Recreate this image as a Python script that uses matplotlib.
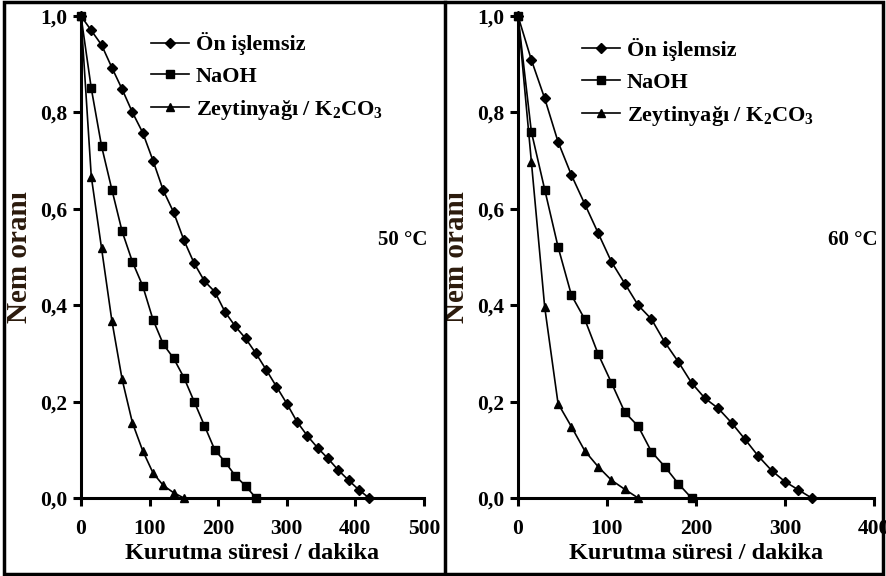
import matplotlib
matplotlib.use("Agg")
import matplotlib.pyplot as plt
from matplotlib.patches import Rectangle
from matplotlib.lines import Line2D

plt.rcParams['font.family'] = ['Liberation Serif', 'DejaVu Serif']
plt.rcParams['font.weight'] = 'bold'
plt.rcParams['mathtext.fontset'] = 'custom'
plt.rcParams['mathtext.rm'] = 'Liberation Serif:bold'
plt.rcParams['mathtext.it'] = 'Liberation Serif:bold'
plt.rcParams['mathtext.bf'] = 'Liberation Serif:bold'

# --- data: 50 C ---
t50_raw = [0, 15, 30, 45, 60, 75, 90, 105, 120, 135, 150, 165, 180, 195, 210,
           225, 240, 255, 270, 285, 300, 315, 330, 345, 360, 375, 390, 405, 420]
mr50_raw = [1.0, 0.97, 0.94, 0.893, 0.848, 0.80, 0.758, 0.70, 0.638, 0.593, 0.535,
            0.487, 0.45, 0.428, 0.386, 0.356, 0.331, 0.30, 0.266, 0.231, 0.196,
            0.158, 0.129, 0.104, 0.082, 0.058, 0.037, 0.017, 0.0]
t50_naoh = [0, 15, 30, 45, 60, 75, 90, 105, 120, 135, 150, 165, 180, 195, 210,
            225, 240, 255]
mr50_naoh = [1.0, 0.85, 0.73, 0.64, 0.553, 0.49, 0.44, 0.37, 0.319, 0.29, 0.25,
             0.20, 0.15, 0.10, 0.075, 0.046, 0.025, 0.0]
t50_oil = [0, 15, 30, 45, 60, 75, 90, 105, 120, 135, 150]
mr50_oil = [1.0, 0.667, 0.518, 0.368, 0.246, 0.156, 0.098, 0.052, 0.026, 0.011, 0.0]

# --- data: 60 C ---
t60_raw = [0, 15, 30, 45, 60, 75, 90, 105, 120, 135, 150, 165, 180, 195, 210,
           225, 240, 255, 270, 285, 300, 315, 330]
mr60_raw = [1.0, 0.909, 0.829, 0.739, 0.67, 0.61, 0.55, 0.49, 0.445, 0.40, 0.371,
            0.323, 0.283, 0.239, 0.207, 0.186, 0.156, 0.122, 0.087, 0.057, 0.034,
            0.017, 0.0]
t60_naoh = [0, 15, 30, 45, 60, 75, 90, 105, 120, 135, 150, 165, 180, 195]
mr60_naoh = [1.0, 0.76, 0.64, 0.521, 0.421, 0.371, 0.299, 0.239, 0.178, 0.149,
             0.096, 0.065, 0.03, 0.0]
t60_oil = [0, 15, 30, 45, 60, 75, 90, 105, 120, 135]
mr60_oil = [1.0, 0.698, 0.396, 0.196, 0.148, 0.098, 0.065, 0.037, 0.018, 0.0]

series_labels = ['Ön işlemsiz', 'NaOH', 'Zeytinyağı / K$_2$CO$_3$']
yticks = [0.0, 0.2, 0.4, 0.6, 0.8, 1.0]
ytick_labels = ['0,0', '0,2', '0,4', '0,6', '0,8', '1,0']
xticks50 = [0, 100, 200, 300, 400, 500]
xticks60 = [0, 100, 200, 300, 400]

fig = plt.figure(figsize=(8.87, 5.76), dpi=100)
ax1 = fig.add_axes([0.0913, 0.1354, 0.3867, 0.8368])
ax2 = fig.add_axes([0.584, 0.1354, 0.4013, 0.8368])

markers = ['D', 's', '^']
msizes = [5.0, 5.2, 6.2]


def panel(ax, data, xticks, xmax, temp_label, temp_x, leg_anchor):
    for (t, mr), m, ms, lab in zip(data, markers, msizes, series_labels):
        ax.plot(t, mr, color='black', lw=1.2, marker=m, markersize=ms,
                markerfacecolor='black', markeredgecolor='black',
                label=lab, clip_on=False, zorder=5)
    ax.set_xlim(0, xmax)
    ax.set_ylim(0, 1.0)
    ax.set_xticks(xticks)
    ax.set_xticklabels([str(v) for v in xticks])
    ax.set_yticks(yticks)
    ax.set_yticklabels(ytick_labels)
    for s in ['top', 'right']:
        ax.spines[s].set_visible(False)
    for s in ['left', 'bottom']:
        ax.spines[s].set_linewidth(2.2)
    ax.tick_params(direction='out', length=6, width=2.2, labelsize=15.5,
                   colors='black', pad=4)
    ax.tick_params(axis='x', pad=9)
    for lbl in ax.get_xticklabels() + ax.get_yticklabels():
        lbl.set_fontweight('bold')
    ax.set_xlabel('Kurutma süresi / dakika', fontsize=17.5, fontweight='bold',
                  labelpad=3)
    ax.set_ylabel('Nem oranı', fontsize=21, fontweight='bold', color='#2b1a0c',
                  labelpad=5)
    ax.text(temp_x, 0.535, temp_label, fontsize=15, fontweight='bold',
            ha='center', va='center')
    ax.legend(loc='upper left', bbox_to_anchor=leg_anchor, frameon=False,
              fontsize=16, handlelength=1.7, handletextpad=0.3,
              labelspacing=0.5, borderpad=0, borderaxespad=0)


panel(ax1, [(t50_raw, mr50_raw), (t50_naoh, mr50_naoh), (t50_oil, mr50_oil)],
      xticks50, 500, '50 °C', 469, (0.205, 0.966))
panel(ax2, [(t60_raw, mr60_raw), (t60_naoh, mr60_naoh), (t60_oil, mr60_oil)],
      xticks60, 400, '60 °C', 376, (0.18, 0.954))

# outer frame and divider
fig.patches.append(Rectangle((0.004, 0.004), 0.992, 0.992, transform=fig.transFigure,
                             fill=False, edgecolor='black', linewidth=2.5))
fig.lines.append(Line2D([0.502, 0.502], [0.004, 0.996], transform=fig.transFigure,
                        color='black', linewidth=2.5))

fig.savefig('out.png', dpi=100)
